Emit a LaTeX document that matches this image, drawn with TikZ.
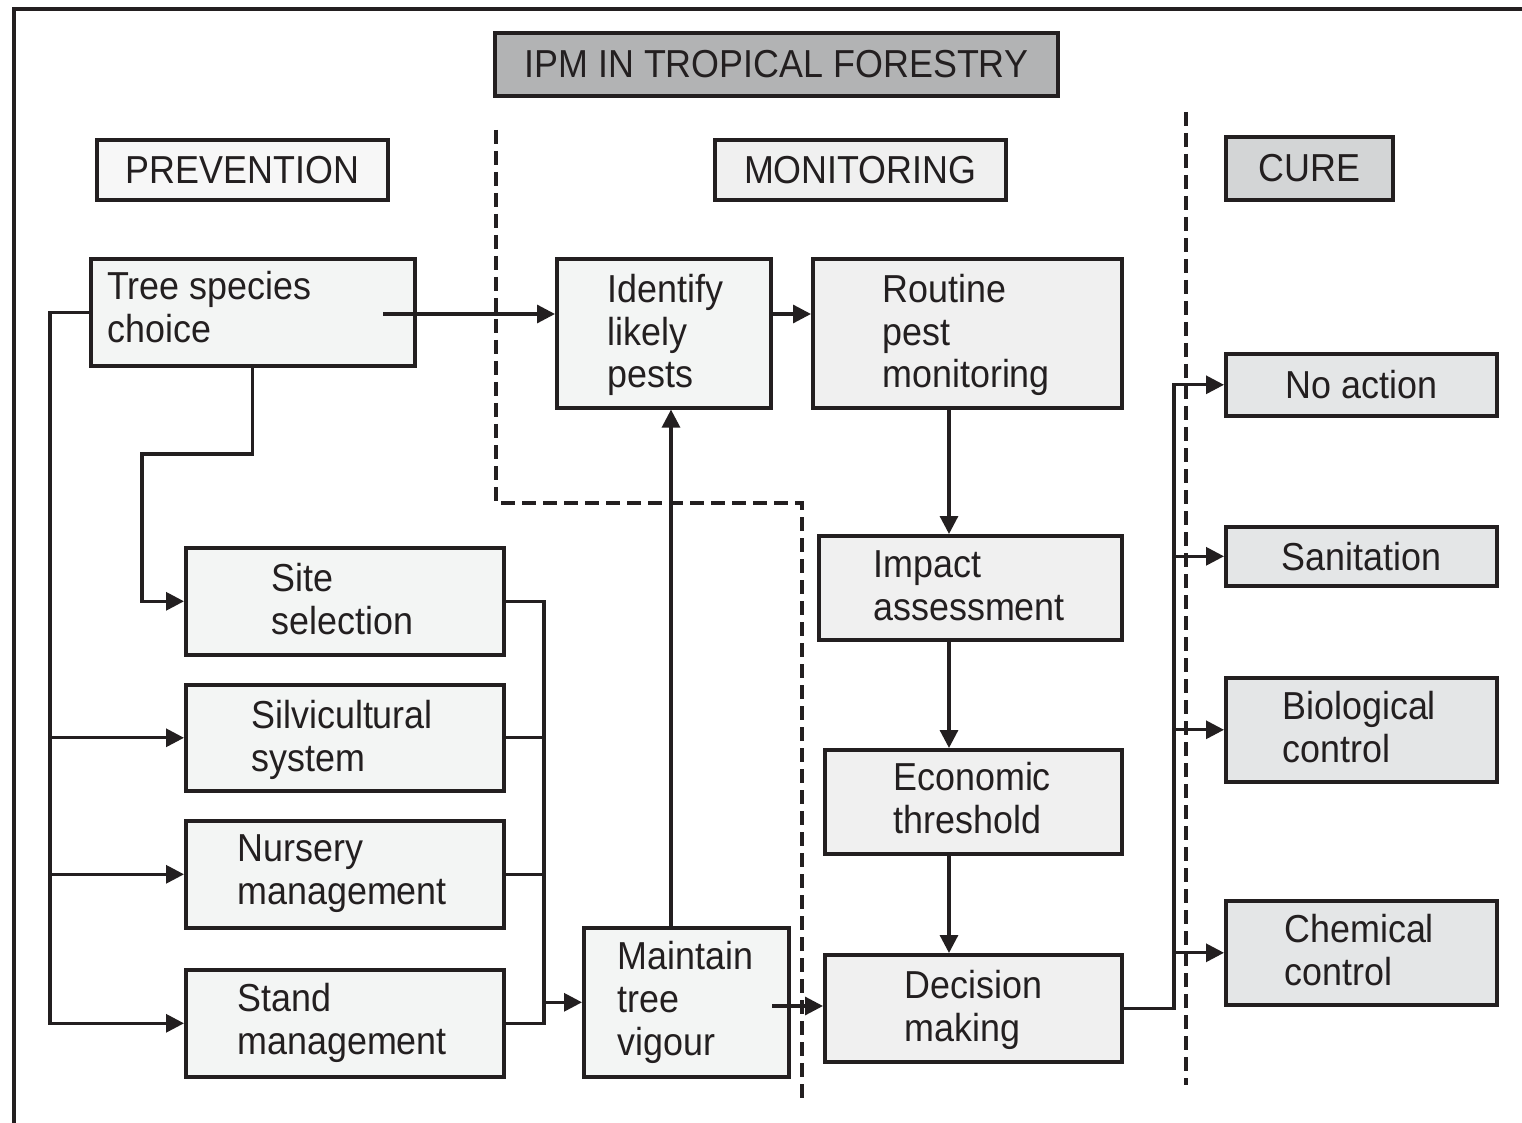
\documentclass[tikz,border=0pt]{standalone}
\usepackage{fontspec}
\setmainfont{Liberation Sans}[FakeStretch=0.92]
\usetikzlibrary{arrows.meta}
\definecolor{ink}{HTML}{231F20}
\definecolor{titlefill}{HTML}{B2B3B4}
\definecolor{prevhead}{HTML}{F7F7F7}
\definecolor{prevfill}{HTML}{F3F5F4}
\definecolor{monfill}{HTML}{F0F0F0}
\definecolor{curehead}{HTML}{D3D5D6}
\definecolor{curefill}{HTML}{E4E6E7}
\tikzset{
  boxs/.style={draw=ink, line width=1.8pt, inner sep=0pt, text=ink,
    font=\fontsize{19.5}{21.5}\selectfont},
  lbl/.style={inner sep=0pt, anchor=base west, align=left, text=ink,
    font=\fontsize{19.5}{21.5}\selectfont},
  conn/.style={draw=ink, line width=1.6pt},
  arr/.style={conn, -{Triangle[length=9pt,width=9pt]}},
  divider/.style={draw=ink, line width=1.6pt, dash pattern=on 7pt off 3.5pt},
}
\newcommand\mkbox[7]{\node[boxs, fill=#6, anchor=north west,
  minimum width={(#4-#2)*0.5pt}, minimum height={(#5-#3)*0.5pt}] (#1) at (#2,#3) {#7};}
\begin{document}
\begin{tikzpicture}[x=0.5pt,y=-0.5pt]
\useasboundingbox (0,0) rectangle (1522,1123);
% frame
\draw[ink, line width=1.8pt] (1522,9) -- (14,9) -- (14,1123);
% dividers
\draw[divider] (496,130) -- (496,503) -- (802,503) -- (802,1100);
\draw[divider] (1186,112) -- (1186,1085);
% headers
\mkbox{title}{493}{31}{1056}{94}{titlefill}{IPM IN TROPICAL FORESTRY}
\mkbox{prev}{95}{138}{386}{198}{prevhead}{PREVENTION}
\mkbox{moni}{713}{138}{1004}{198}{monfill}{MONITORING}
\mkbox{cure}{1224}{135}{1391}{198}{curehead}{CURE}
% prevention
\mkbox{tree}{89}{257}{413}{364}{prevfill}{}
\mkbox{site}{184}{546}{502}{653}{prevfill}{}
\mkbox{silvi}{184}{683}{502}{789}{prevfill}{}
\mkbox{nurs}{184}{819}{502}{926}{prevfill}{}
\mkbox{stand}{184}{968}{502}{1075}{prevfill}{}
\mkbox{ident}{555}{257}{769}{406}{prevfill}{}
\mkbox{maint}{582}{926}{787}{1075}{prevfill}{}
% monitoring
\mkbox{rout}{811}{257}{1120}{406}{monfill}{}
\mkbox{impact}{817}{534}{1120}{638}{monfill}{}
\mkbox{econ}{823}{748}{1120}{852}{monfill}{}
\mkbox{dec}{823}{953}{1120}{1060}{monfill}{}
% cure
\mkbox{noact}{1224}{352}{1495}{414}{curefill}{No action}
\mkbox{sanit}{1224}{525}{1495}{584}{curefill}{Sanitation}
\mkbox{bio}{1224}{676}{1495}{780}{curefill}{}
\mkbox{chem}{1224}{899}{1495}{1003}{curefill}{}
% texts (anchor = baseline of last line)
\node[lbl] (ttree) at (107,343) {Tree species\\choice};
\node[lbl] (tsite) at (271,634) {Site\\selection};
\node[lbl] (tsilvi) at (251,771) {Silvicultural\\system};
\node[lbl] (tnurs) at (237,904) {Nursery\\management};
\node[lbl] (tstand) at (237,1054) {Stand\\management};
\node[lbl] (tident) at (607,388) {Identify\\likely\\pests};
\node[lbl] (tmaint) at (617,1055) {Maintain\\tree\\vigour};
\node[lbl] (trout) at (882,388) {Routine\\pest\\monitoring};
\node[lbl] (timpact) at (873,620) {Impact\\assessment};
\node[lbl] (tecon) at (893,833) {Economic\\threshold};
\node[lbl] (tdec) at (904,1041) {Decision\\making};
\node[lbl] (tbio) at (1282,762) {Biological\\control};
\node[lbl] (tchem) at (1284,985) {Chemical\\control};
% helper coordinates
\coordinate (tsA) at (383,314);
\coordinate (lx) at (50,311);
\coordinate (k1) at (142,454);
\coordinate (rx) at (544,0);
\coordinate (vx) at (671,0);
\coordinate (mA) at (772,1006);
\coordinate (mx) at (949,0);
\coordinate (cx) at (1174,0);
% connectors prevention
\draw[arr] (tsA) -- (tsA -| ident.west);
\draw[arr] (tree.west) -- (tree.west -| lx) |- (stand.west);
\draw[arr] (silvi.west -| lx) -- (silvi.west);
\draw[arr] (nurs.west -| lx) -- (nurs.west);
\draw[arr] (tree.south) |- (k1) |- (site.west);
\draw[conn] (site.east) -| (stand.east -| rx) -- (stand.east);
\draw[conn] (silvi.east) -- (silvi.east -| rx);
\draw[conn] (nurs.east) -- (nurs.east -| rx);
\draw[arr] (maint.west -| rx) -- (maint.west);
\draw[arr] (maint.north -| vx) -- (ident.south -| vx);
\draw[arr] (mA) -- (mA -| dec.west);
% monitoring
\draw[arr] (ident.east |- tsA) -- (rout.west |- tsA);
\draw[arr] (rout.south -| mx) -- (impact.north -| mx);
\draw[arr] (impact.south -| mx) -- (econ.north -| mx);
\draw[arr] (econ.south -| mx) -- (dec.north -| mx);
% cure
\draw[arr] (dec.east) -| (noact.west -| cx) -- (noact.west);
\draw[arr] (sanit.west -| cx) -- (sanit.west);
\draw[arr] (bio.west -| cx) -- (bio.west);
\draw[arr] (chem.west -| cx) -- (chem.west);
\end{tikzpicture}
\end{document}
